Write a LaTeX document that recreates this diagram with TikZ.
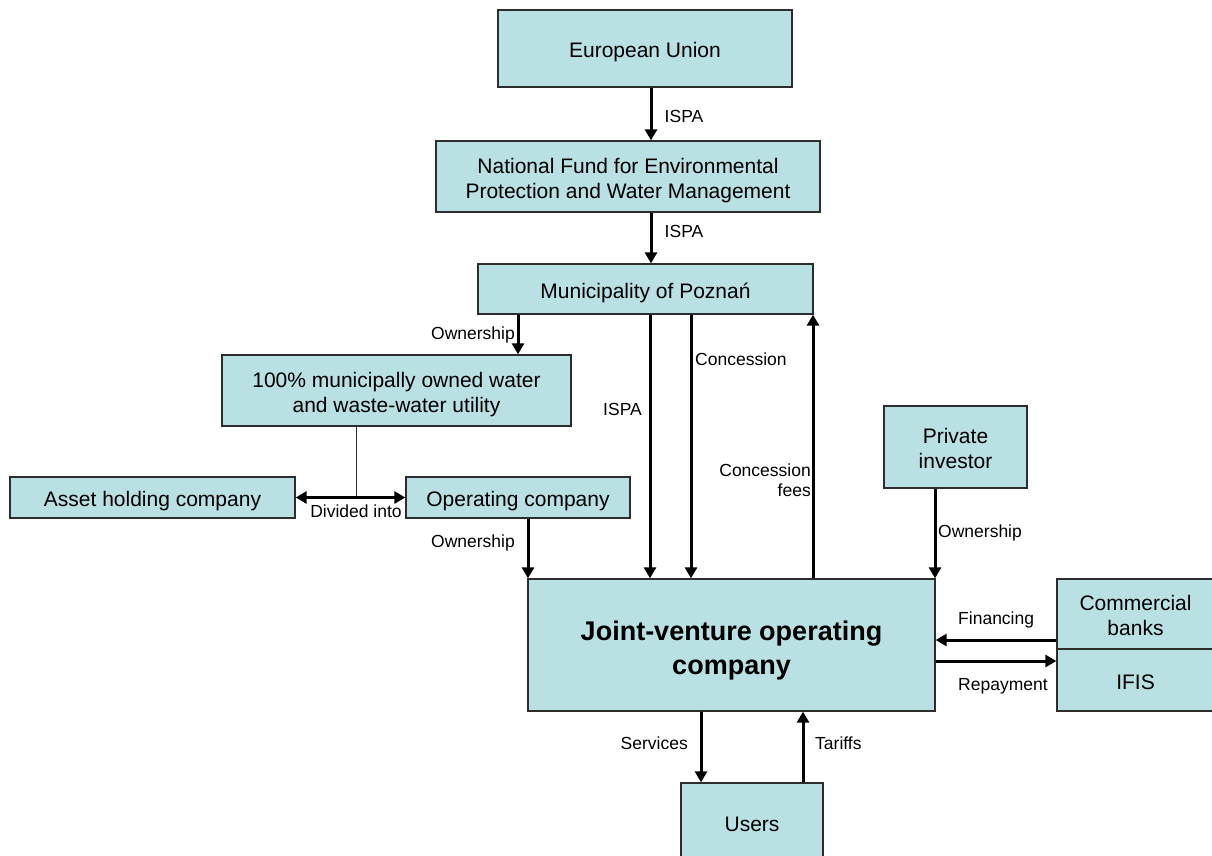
\documentclass[tikz,border=0pt]{standalone}
\usepackage{fontspec}
\setmainfont{Liberation Sans}
\usetikzlibrary{arrows.meta}
\definecolor{boxfill}{RGB}{185,224,227}
\definecolor{boxline}{RGB}{45,45,45}
\newcommand{\topstrutx}[1][22pt]{\rule{0pt}{#1}}
\newcommand{\botstrutx}{\rule[-5pt]{0pt}{5pt}}
\tikzset{
  box/.style={draw=boxline, line width=1.3pt, fill=boxfill, inner sep=0pt, align=center,
    font=\fontsize{21}{25}\selectfont},
  one/.style={execute at begin node={\rule{0pt}{23pt}},
    execute at end node={\rule[-5pt]{0pt}{5pt}}},
  lbl/.style={inner sep=0pt, font=\fontsize{17.5}{20.5}\selectfont, text height=12.5pt, text depth=0pt},
  lbltwo/.style={inner sep=0pt, font=\fontsize{17.5}{20.5}\selectfont},
  arr/.style={line width=3pt, -{Triangle[length=11pt,width=12pt]}},
  darr/.style={line width=3pt, {Triangle[length=11pt,width=12pt]}-{Triangle[length=11pt,width=12pt]}},
  thin/.style={line width=1pt, draw=boxline}
}
\begin{document}
\begin{tikzpicture}[x=1pt,y=-1pt]
\useasboundingbox (0,0) rectangle (1212,856);
% boxes
\node[box, one, minimum width=294pt, minimum height=77pt] (eu) at (645,48.5) {European Union};
\node[box, minimum width=384pt, minimum height=71pt] (nf) at (628,176.5) {\topstrutx[24pt]National Fund for Environmental\\Protection and Water Management\botstrutx};
\node[box, one, minimum width=335pt, minimum height=50pt] (mun) at (645.5,289) {Municipality of Poznań};
\node[box, minimum width=349pt, minimum height=71pt] (util) at (396.5,390.5) {\topstrutx[24pt]100\% municipally owned water\\and waste-water utility\botstrutx};
\node[box, one, minimum width=285pt, minimum height=41pt] (asset) at (152.5,497.5) {Asset holding company};
\node[box, one, minimum width=224pt, minimum height=41pt] (opc) at (518,497.5) {Operating company};
\node[box, minimum width=407pt, minimum height=132pt, font=\fontsize{27}{34}\selectfont\bfseries] (jv) at (731.5,645) {\topstrutx[31pt]Joint-venture operating\\company\botstrutx};
\node[box, minimum width=143pt, minimum height=82pt] (priv) at (955.5,447) {\topstrutx Private\\investor\botstrutx};
\node[box, minimum width=157pt, minimum height=70pt] (banks) at (1135.5,614) {\topstrutx Commercial\\banks\botstrutx};
\node[box, one, minimum width=157pt, minimum height=62pt] (ifis) at (1135.5,680) {IFIS};
\node[box, one, minimum width=142pt, minimum height=78pt] (users) at (752,822) {Users};
% x / y positions of connectors
\coordinate (x651) at (651,0);
\coordinate (x518) at (518,0);
\coordinate (x528) at (528,0);
\coordinate (x356) at (356,0);
\coordinate (x650) at (650,0);
\coordinate (x691) at (691,0);
\coordinate (x813) at (813,0);
\coordinate (x935) at (935,0);
\coordinate (x701) at (701,0);
\coordinate (x803) at (803,0);
\coordinate (y640) at (0,640);
\coordinate (y661) at (0,661);
\coordinate (y498) at (0,498);
% connectors
\draw[arr] (eu.south -| x651) -- (nf.north -| x651);
\draw[arr] (nf.south -| x651) -- (mun.north -| x651);
\draw[arr] (mun.south -| x518) -- (util.north -| x518);
\coordinate (split) at (x356 |- y498);
\draw[thin] (util.south -| x356) -- (split);
\draw[darr] (asset.east) -- (opc.west);
\draw[arr] (opc.south -| x528) -- (jv.north -| x528);
\draw[arr] (mun.south -| x650) -- (jv.north -| x650);
\draw[arr] (mun.south -| x691) -- (jv.north -| x691);
\draw[arr] (jv.north -| x813) -- (mun.south -| x813);
\draw[arr] (priv.south -| x935) -- (jv.north -| x935);
\draw[arr] (banks.west |- y640) -- (jv.east |- y640);
\draw[arr] (jv.east |- y661) -- (ifis.west |- y661);
\draw[arr] (jv.south -| x701) -- (users.north -| x701);
\draw[arr] (users.north -| x803) -- (jv.south -| x803);
% labels
\node[lbl] (l1) at (684,116) {ISPA};
\node[lbl] (l2) at (684,231) {ISPA};
\node[lbl, anchor=east] (l3) at (515,333) {Ownership};
\node[lbl] (l4) at (356,511.5) {Divided into};
\node[lbl, anchor=east] (l5) at (515,541.5) {Ownership};
\node[lbl] (l6) at (622.5,409.7) {ISPA};
\node[lbl, anchor=west] (l7) at (695,359) {Concession};
\node[lbltwo, anchor=east, align=right] (l8) at (811,480) {Concession\\fees};
\node[lbl, anchor=west] (l9) at (938,531.7) {Ownership};
\node[lbl, anchor=west] (l10) at (958,618.3) {Financing};
\node[lbl, anchor=west] (l11) at (958,684.7) {Repayment};
\node[lbl, anchor=east] (l12) at (688,743) {Services};
\node[lbl, anchor=west] (l13) at (815,743) {Tariffs};
\end{tikzpicture}
\end{document}
